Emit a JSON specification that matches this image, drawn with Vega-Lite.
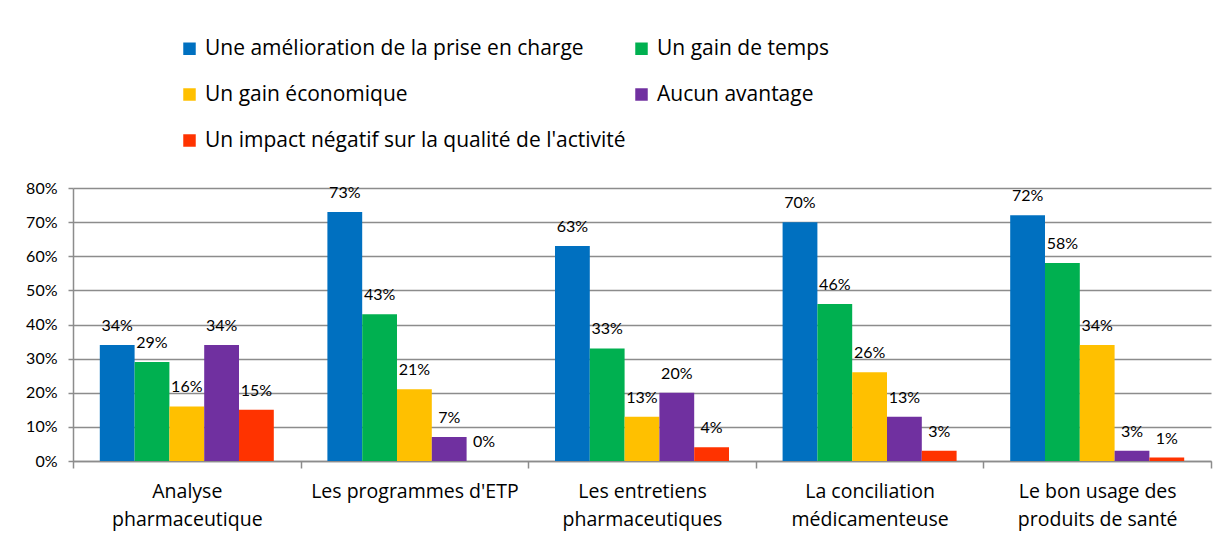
{
  "$schema": "https://vega.github.io/schema/vega-lite/v6.json",
  "width": 1138,
  "height": 273,
  "autosize": {"type": "none"},
  "padding": {"left": 73, "top": 188, "right": 18, "bottom": 84},
  "background": "white",
  "config": {
    "font": "Open Sans",
    "view": {"stroke": null},
    "axis": {"labelColor": "#000000", "domainColor": "#8c8c8c", "tickColor": "#8c8c8c", "gridColor": "#8c8c8c"}
  },
  "data": {
    "values": [
      {"cat": "Analyse|pharmaceutique", "series": "Une amélioration de la prise en charge", "value": 0.34},
      {"cat": "Analyse|pharmaceutique", "series": "Un gain de temps", "value": 0.29},
      {"cat": "Analyse|pharmaceutique", "series": "Un gain économique", "value": 0.16},
      {"cat": "Analyse|pharmaceutique", "series": "Aucun avantage", "value": 0.34},
      {"cat": "Analyse|pharmaceutique", "series": "Un impact négatif sur la qualité de l'activité", "value": 0.15},
      {"cat": "Les programmes d'ETP", "series": "Une amélioration de la prise en charge", "value": 0.73},
      {"cat": "Les programmes d'ETP", "series": "Un gain de temps", "value": 0.43},
      {"cat": "Les programmes d'ETP", "series": "Un gain économique", "value": 0.21},
      {"cat": "Les programmes d'ETP", "series": "Aucun avantage", "value": 0.07},
      {"cat": "Les programmes d'ETP", "series": "Un impact négatif sur la qualité de l'activité", "value": 0.0},
      {"cat": "Les entretiens|pharmaceutiques", "series": "Une amélioration de la prise en charge", "value": 0.63},
      {"cat": "Les entretiens|pharmaceutiques", "series": "Un gain de temps", "value": 0.33},
      {"cat": "Les entretiens|pharmaceutiques", "series": "Un gain économique", "value": 0.13},
      {"cat": "Les entretiens|pharmaceutiques", "series": "Aucun avantage", "value": 0.20},
      {"cat": "Les entretiens|pharmaceutiques", "series": "Un impact négatif sur la qualité de l'activité", "value": 0.04},
      {"cat": "La conciliation|médicamenteuse", "series": "Une amélioration de la prise en charge", "value": 0.70},
      {"cat": "La conciliation|médicamenteuse", "series": "Un gain de temps", "value": 0.46},
      {"cat": "La conciliation|médicamenteuse", "series": "Un gain économique", "value": 0.26},
      {"cat": "La conciliation|médicamenteuse", "series": "Aucun avantage", "value": 0.13},
      {"cat": "La conciliation|médicamenteuse", "series": "Un impact négatif sur la qualité de l'activité", "value": 0.03},
      {"cat": "Le bon usage des|produits de santé", "series": "Une amélioration de la prise en charge", "value": 0.72},
      {"cat": "Le bon usage des|produits de santé", "series": "Un gain de temps", "value": 0.58},
      {"cat": "Le bon usage des|produits de santé", "series": "Un gain économique", "value": 0.34},
      {"cat": "Le bon usage des|produits de santé", "series": "Aucun avantage", "value": 0.03},
      {"cat": "Le bon usage des|produits de santé", "series": "Un impact négatif sur la qualité de l'activité", "value": 0.01}
    ]
  },
  "encoding": {
    "x": {
      "field": "cat",
      "type": "nominal",
      "sort": null,
      "scale": {"paddingInner": 0, "paddingOuter": 0},
      "axis": {
        "title": null,
        "labelAngle": 0,
        "labelExpr": "split(datum.label, '|')",
        "labelFont": "Open Sans",
        "labelFontSize": 19.5,
        "labelLineHeight": 28,
        "labelPadding": 14,
        "labelBaseline": "top",
        "labelLimit": 300,
        "tickBand": "extent",
        "tickSize": 7,
        "tickWidth": 1.5,
        "domainWidth": 1.5,
        "grid": false
      }
    },
    "xOffset": {
      "field": "series",
      "type": "nominal",
      "sort": ["Une amélioration de la prise en charge", "Un gain de temps", "Un gain économique", "Aucun avantage", "Un impact négatif sur la qualité de l'activité"],
      "scale": {"paddingInner": 0, "paddingOuter": 0.77}
    },
    "y": {
      "field": "value",
      "type": "quantitative",
      "scale": {"domain": [0, 0.8], "nice": false},
      "axis": {
        "title": null,
        "format": ".0%",
        "values": [0, 0.1, 0.2, 0.3, 0.4, 0.5, 0.6, 0.7, 0.8],
        "labelFont": "Lato",
        "labelFontSize": 16,
        "labelPadding": 11,
        "tickSize": 5,
        "tickWidth": 1.5,
        "gridWidth": 1.5,
        "domainWidth": 1.5
      }
    }
  },
  "layer": [
    {
      "mark": {"type": "bar"},
      "encoding": {
        "color": {
          "field": "series",
          "type": "nominal",
          "sort": ["Une amélioration de la prise en charge", "Un gain de temps", "Un gain économique", "Aucun avantage", "Un impact négatif sur la qualité de l'activité"],
          "scale": {
            "domain": ["Une amélioration de la prise en charge", "Un gain de temps", "Un gain économique", "Aucun avantage", "Un impact négatif sur la qualité de l'activité"],
            "range": ["#0070C0", "#00B050", "#FFC000", "#7030A0", "#FF3300"]
          },
          "legend": {
            "title": null,
            "orient": "none",
            "legendX": 106,
            "legendY": -150,
            "columns": 2,
            "direction": "horizontal",
            "columnPadding": 5,
            "rowPadding": 24,
            "labelFontSize": 21,
            "labelFont": "Open Sans",
            "labelColor": "#000000",
            "labelLimit": 600,
            "labelOffset": 5,
            "symbolType": "square",
            "symbolSize": 156,
            "symbolStrokeWidth": 0,
            "symbolOpacity": 1,
            "padding": 0
          }
        }
      }
    },
    {
      "mark": {"type": "text", "baseline": "alphabetic", "dy": -14, "fontSize": 16, "font": "Lato", "color": "#000000"},
      "encoding": {
        "text": {"field": "value", "type": "quantitative", "format": ".0%"}
      }
    }
  ]
}
